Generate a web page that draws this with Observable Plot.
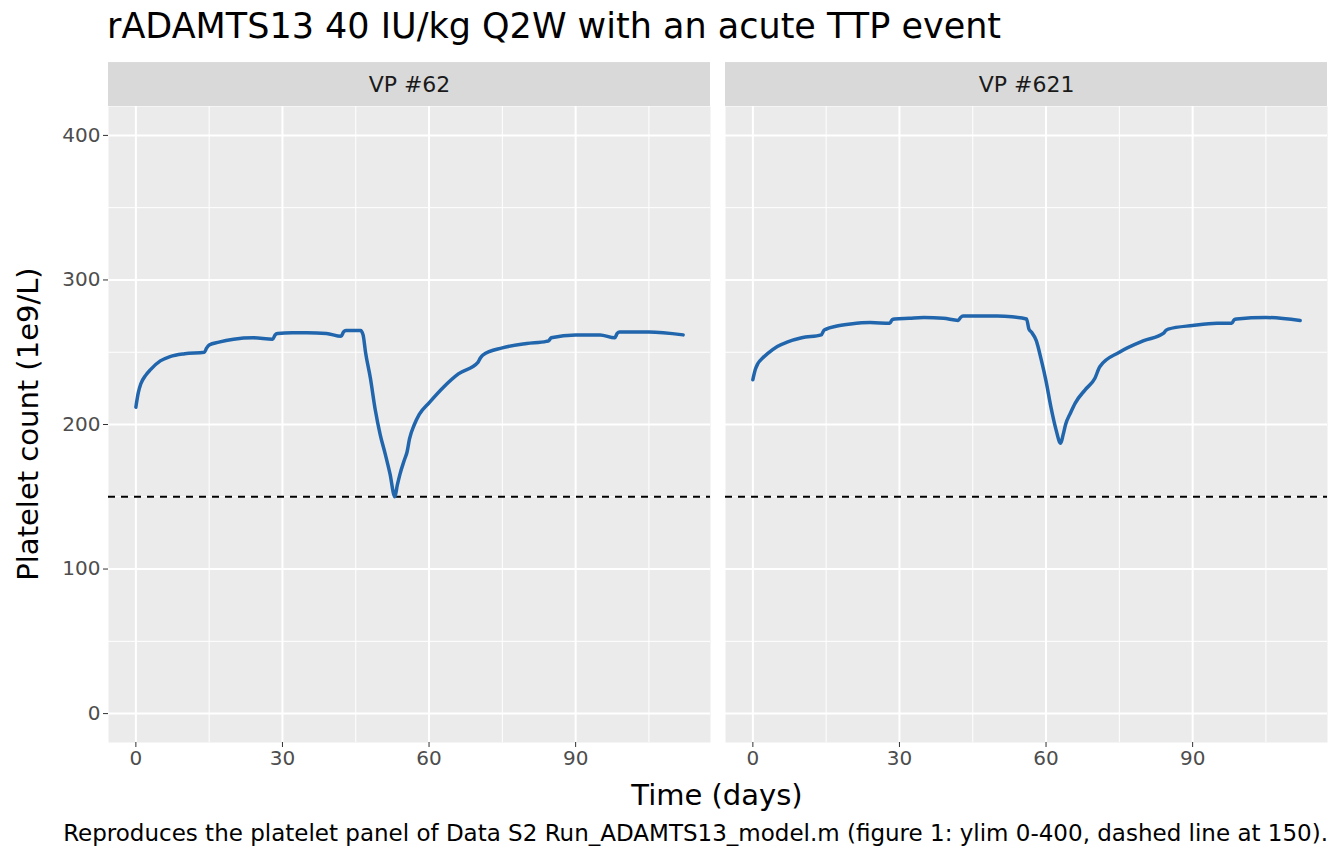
<!DOCTYPE html>
<html><head><meta charset="utf-8">
<script src="https://cdn.jsdelivr.net/npm/d3@7"></script>
<script src="https://cdn.jsdelivr.net/npm/@observablehq/plot@0.6"></script>
<style>
body{margin:0;font-family:"DejaVu Sans",sans-serif;background:#fff;width:1344px;height:864px;position:relative;overflow:hidden}
#title{position:absolute;left:107px;top:6px;font-size:35px;color:#000;white-space:nowrap}
#chart{position:absolute;left:0;top:62px}
#ylab{position:absolute;left:28px;top:424px;transform:translate(-50%,-50%) rotate(-90deg);font-size:29px;white-space:nowrap}
#xlab{position:absolute;left:717px;top:778px;transform:translateX(-50%);font-size:29px;white-space:nowrap}
#cap{position:absolute;right:16px;top:820px;font-size:23px;white-space:nowrap}
</style></head><body>
<div id="title">rADAMTS13 40 IU/kg Q2W with an acute TTP event</div>
<div id="chart"></div>
<div id="ylab">Platelet count (1e9/L)</div>
<div id="xlab">Time (days)</div>
<div id="cap">Reproduces the platelet panel of Data S2 Run_ADAMTS13_model.m (figure 1: ylim 0-400, dashed line at 150).</div>
<script>
const panels = ["VP #62", "VP #621"];
const days62 = [0,0.5,1,2,3,5,7,10,14,14.5,15,17,20,24,28,28.5,29,32,35,39,42,42.5,43,46,46.5,47,48,49,50,51,52,53,53.5,54,55,55.5,56,57,58,60,63,66,70,70.5,71,75,80,84,84.5,85,90,95,98,98.5,99,105,112];
const plt62 = [212,222,228,234,238,244,247,249,250,253,255,257,259,260,259,262,263,263.5,263.5,263,261,264,265,265,262,250,232,210,193,180,166,150,158,165,176,181,190,200,207,215,226,235,243,246,248,253,256,257.5,258,260,262,262,260,263,264,264,262];
const days621 = [0,0.5,1,2,3,5,7,10,14,14.5,15,17,20,24,28,28.5,29,32,35,39,42,42.5,43,46,50,53,56,56.5,57,58,59,60,61,62,63,63.5,64,65,66,68,70,71,75,80,84,84.5,85,90,95,98,98.5,99,105,112];
const plt621 = [231,238,242,246,249,254,257,260,262,265,266,268,269.5,270.5,270,272.5,273,273.5,274,273.5,272,274,275,275,275,274.5,273,266,264,258,245,230,212,197,187,193,200,208,215,224,232,240,250,258,263,265,266,268.5,270,270,272.5,273,274,272];
const threshold = 150;
const xTicks = [0,30,60,90], xMinor = [15,45,75,105];
const yTicks = [0,100,200,300,400], yMinor = [50,150,250,350];

const data = [
  ...days62.map((d,i)=>({panel:panels[0], day:d, plt:plt62[i]})),
  ...days621.map((d,i)=>({panel:panels[1], day:d, plt:plt621[i]}))
];
const strips = panels.map(p=>({panel:p}));
const chart = Plot.plot({
  width:1344, height:758,
  marginTop:44, marginBottom:78, marginLeft:107, marginRight:16,
  style:{fontFamily:"DejaVu Sans, sans-serif", fontSize:"20px"},
  fx:{domain:panels, paddingInner:0.02427, paddingOuter:0, axis:null},
  x:{domain:[-5.6,117.6]},
  y:{domain:[-20,420]},
  marks:[
    Plot.frame({fill:"#ebebeb", stroke:null}),
    Plot.ruleX(xMinor,{stroke:"#fff", strokeWidth:1}),
    Plot.ruleY(yMinor,{stroke:"#fff", strokeWidth:1}),
    Plot.ruleX(xTicks,{stroke:"#fff", strokeWidth:2}),
    Plot.ruleY(yTicks,{stroke:"#fff", strokeWidth:2}),
    Plot.rect(strips,{fx:"panel", x1:-5.6, x2:117.6, y1:420, y2:450.4, fill:"#d9d9d9", clip:false}),
    Plot.text(strips,{fx:"panel", x:56, y:435.2, text:"panel", fontSize:22, fill:"#1a1a1a"}),
    Plot.ruleY([threshold],{stroke:"#000", strokeWidth:2, strokeDasharray:"7,6"}),
    Plot.line(data,{fx:"panel", x:"day", y:"plt", stroke:"#2166ac", strokeWidth:3.5, curve:"monotone-x"}),
    Plot.axisX(xTicks,{tickSize:5, tickPadding:3, stroke:"#333", fill:"#4d4d4d", fontSize:20, label:null}),
    Plot.axisY(yTicks,{tickSize:5, tickPadding:3, stroke:"#333", fill:"#4d4d4d", fontSize:20, label:null})
  ]
});
document.getElementById("chart").append(chart);
</script></body></html>
